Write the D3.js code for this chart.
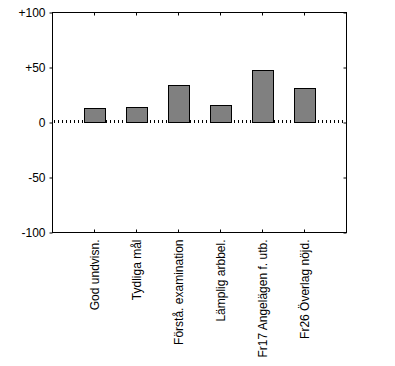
<!DOCTYPE html>
<html><head><meta charset="utf-8">
<script src="https://cdn.jsdelivr.net/npm/d3@7"></script>
<style>body{margin:0;background:#fff}text{font-family:"Liberation Sans",Arial,sans-serif;font-size:12px;fill:#000}</style>
</head><body>
<svg id="c" width="395" height="366"></svg>
<script>
const categories = ["God undvisn.", "Tydliga mål", "Förstå. examination", "Lämplig arbbel.", "Fr17 Angelägen f. utb.", "Fr26 Överlag nöjd."];
const values = [13, 14, 34, 16, 48, 31];
const yTicks = [100, 50, 0, -50, -100];
const yTickLabels = ["+100", "+50", "0", "-50", "-100"];

(function () {
const svg = d3.select("#c");
const L = 52, R = 346, T = 12.5, B = 232.5;
const x = d3.scalePoint().domain(categories).range([L, R]).padding(1);
const y = d3.scaleLinear().domain([-100, 100]).range([B, T]);
const bw = 21;

// zero dotted line
svg.append("line").attr("x1", L + 2).attr("x2", R).attr("y1", y(0) - 1).attr("y2", y(0) - 1)
  .attr("stroke", "#000").attr("stroke-width", 3).attr("stroke-dasharray", "1,3");

// bars
svg.selectAll("rect.bar").data(values).join("rect").attr("class", "bar")
  .attr("x", (d, i) => Math.round(x(categories[i]) - bw / 2) + 0.5)
  .attr("y", d => Math.round(y(d)) + 0.5)
  .attr("width", bw)
  .attr("height", d => Math.round(y(0)) - Math.round(y(d)) - 1)
  .attr("fill", "#808080").attr("stroke", "#000").attr("stroke-width", 1);

// axes
const gLeft = svg.append("g").attr("transform", `translate(${L + 0.5},0)`)
  .call(d3.axisLeft(y).tickValues(yTicks).tickSize(3).tickPadding(4).tickFormat((d, i) => yTickLabels[i]));
const gRight = svg.append("g").attr("transform", `translate(${R + 0.5},0)`)
  .call(d3.axisLeft(y).tickValues(yTicks).tickSize(3).tickFormat(""));
const gTop = svg.append("g").attr("transform", `translate(0,${T})`)
  .call(d3.axisBottom(x).tickSize(3).tickFormat(""));
const gBottom = svg.append("g").attr("transform", `translate(0,${B})`)
  .call(d3.axisTop(x).tickSize(3).tickFormat(""));
[gLeft, gRight, gTop, gBottom].forEach(g => {
  g.selectAll(".domain").remove();
  g.selectAll("line").attr("stroke", "#000");
  g.selectAll("text").attr("font-family", "Liberation Sans, Arial, sans-serif").attr("font-size", 12).attr("fill", "#000");
});
// frame
svg.append("rect").attr("x", L + 0.5).attr("y", T).attr("width", R - L).attr("height", B - T)
  .attr("fill", "none").attr("stroke", "#000").attr("stroke-width", 1);

// x labels rotated
svg.append("g").selectAll("text").data(categories).join("text")
  .attr("transform", d => `translate(${x(d) + 0.5},${B + 7}) rotate(-90)`)
  .attr("text-anchor", "end").attr("dy", "0.35em").text(d => d);
})();
</script>
</body></html>
